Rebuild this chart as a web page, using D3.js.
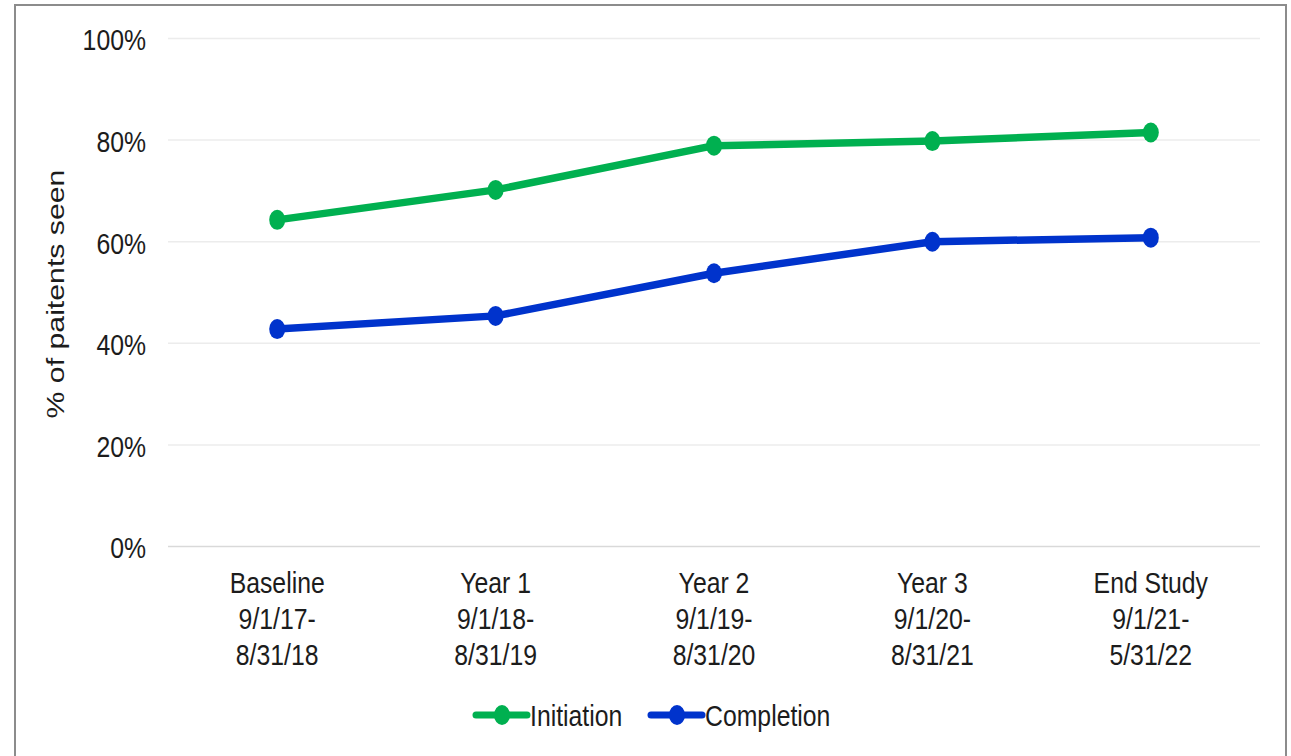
<!DOCTYPE html>
<html>
<head>
<meta charset="utf-8">
<script src="https://cdn.jsdelivr.net/npm/d3@7"></script>
<style>
  html, body { margin: 0; padding: 0; background: #fff; }
  svg { display: block; font-family: "Liberation Sans", Arial, sans-serif; }
</style>
</head>
<body>
<svg id="chart" width="1291" height="756"></svg>
<script>
// Periods on the x axis (each label is drawn on three lines)
const categories = ["Baseline", "Year 1", "Year 2", "Year 3", "End Study"];
const categoryLines = [
  ["Baseline", "9/1/17-", "8/31/18"],
  ["Year 1", "9/1/18-", "8/31/19"],
  ["Year 2", "9/1/19-", "8/31/20"],
  ["Year 3", "9/1/20-", "8/31/21"],
  ["End Study", "9/1/21-", "5/31/22"]
];

// Share of patients seen per period
const initiation = [0.642, 0.701, 0.788, 0.797, 0.814];
const completion = [0.427, 0.453, 0.537, 0.599, 0.607];

const seriesNames = ["Initiation", "Completion"];
const seriesColors = ["#00b050", "#0033cc"];

const yTicks = [0, 0.2, 0.4, 0.6, 0.8, 1.0];
const yTitle = "% of paitents seen";

const svg = d3.select("#chart");
const W = 1291, H = 756;
const plot = { left: 168, right: 1260, top: 38, bottom: 546 };
const SY = 1.22;          // vertical stretch applied to text and markers
const FS = 24.8;          // font size
const textColor = "#1c1c1c";

// outer frame
svg.append("rect")
  .attr("x", 15).attr("y", 5)
  .attr("width", 1271).attr("height", H + 10)
  .attr("fill", "#fff")
  .attr("stroke", "#8c8c8c").attr("stroke-width", 2);

const x = d3.scalePoint().domain(categories).range([plot.left, plot.right]).padding(0.5);
const y = d3.scaleLinear().domain([0, 1]).range([plot.bottom, plot.top]);

// y axis with gridlines
const yAxis = svg.append("g")
  .attr("transform", `translate(${plot.left},0)`)
  .call(d3.axisLeft(y)
    .tickValues(yTicks)
    .tickFormat(d3.format(".0%"))
    .tickSize(-(plot.right - plot.left))
    .tickPadding(22));
yAxis.select(".domain").remove();
yAxis.selectAll(".tick line")
  .attr("stroke", d => d === 0 ? "#d9d9d9" : "#ececec")
  .attr("stroke-width", 1.5);
yAxis.selectAll(".tick text")
  .attr("font-size", FS)
  .attr("fill", textColor)
  .attr("dy", "0.39em")
  .attr("transform", `scale(1,${SY})`);

// y axis title
svg.append("text")
  .attr("transform", `translate(64,294) scale(1,${SY}) rotate(-90)`)
  .attr("text-anchor", "middle")
  .attr("font-size", FS)
  .attr("fill", textColor)
  .text(yTitle);

// x category labels
const lineBaselines = [593, 629, 665];
const xLabels = svg.append("g");
categoryLines.forEach((lines, i) => {
  lines.forEach((t, j) => {
    xLabels.append("text")
      .attr("transform", `translate(${x(categories[i])},${lineBaselines[j]}) scale(1,${SY})`)
      .attr("text-anchor", "middle")
      .attr("font-size", FS)
      .attr("fill", textColor)
      .text(t);
  });
});

// series lines and markers
const series = [initiation, completion];
const line = d3.line()
  .x((d, i) => x(categories[i]))
  .y(d => y(d));

series.forEach((vals, s) => {
  svg.append("path")
    .datum(vals)
    .attr("d", line)
    .attr("fill", "none")
    .attr("stroke", seriesColors[s])
    .attr("stroke-width", 7.5)
    .attr("stroke-linejoin", "round");
  svg.append("g").selectAll("ellipse")
    .data(vals)
    .join("ellipse")
    .attr("cx", (d, i) => x(categories[i]))
    .attr("cy", d => y(d))
    .attr("rx", 8)
    .attr("ry", 10)
    .attr("fill", seriesColors[s]);
});

// legend
const legendY = 715;
const legendItems = [
  { x0: 476, name: seriesNames[0], color: seriesColors[0] },
  { x0: 651, name: seriesNames[1], color: seriesColors[1] }
];
legendItems.forEach(it => {
  const g = svg.append("g");
  g.append("line")
    .attr("x1", it.x0).attr("x2", it.x0 + 51)
    .attr("y1", legendY).attr("y2", legendY)
    .attr("stroke", it.color).attr("stroke-width", 7)
    .attr("stroke-linecap", "round");
  g.append("ellipse")
    .attr("cx", it.x0 + 26).attr("cy", legendY)
    .attr("rx", 8).attr("ry", 10)
    .attr("fill", it.color);
  g.append("text")
    .attr("transform", `translate(${it.x0 + 54},${legendY + 11}) scale(1,${SY})`)
    .attr("font-size", FS)
    .attr("fill", textColor)
    .text(it.name);
});
</script>
</body>
</html>
